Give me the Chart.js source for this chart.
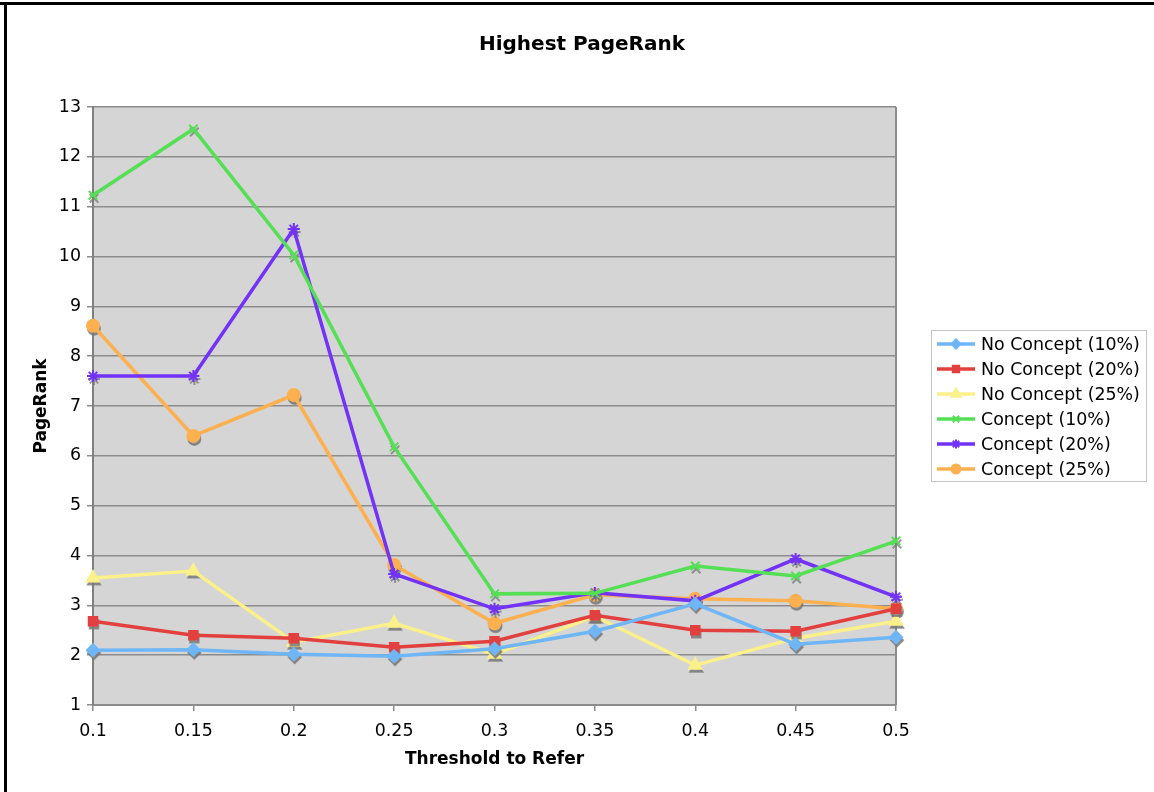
<!DOCTYPE html>
<html>
<head>
<meta charset="utf-8">
<script src="https://cdn.jsdelivr.net/npm/chart.js@4/dist/chart.umd.min.js"></script>
<style>
  html, body { margin: 0; padding: 0; background: #fff; }
  #wrap { position: relative; width: 1154px; height: 792px; }
  canvas { display: block; }
</style>
</head>
<body>
<div id="wrap"><canvas id="c" width="1154" height="792"></canvas></div>
<script>
// Threshold categories on the x axis
const thresholds = ['0.1', '0.15', '0.2', '0.25', '0.3', '0.35', '0.4', '0.45', '0.5'];

// Highest PageRank per series
const noConcept10 = [2.10, 2.11, 2.02, 1.98, 2.13, 2.48, 3.03, 2.22, 2.36];
const noConcept20 = [2.68, 2.40, 2.34, 2.16, 2.28, 2.80, 2.50, 2.48, 2.93];
const noConcept25 = [3.55, 3.69, 2.26, 2.64, 2.02, 2.78, 1.80, 2.34, 2.68];
const concept10   = [11.23, 12.56, 10.03, 6.18, 3.23, 3.24, 3.79, 3.59, 4.29];
const concept20   = [7.60, 7.60, 10.55, 3.63, 2.93, 3.25, 3.09, 3.93, 3.17];
const concept25   = [8.61, 6.40, 7.22, 3.81, 2.64, 3.21, 3.13, 3.09, 2.93];

// y axis range
const yMin = 1, yMax = 13, yStep = 1;

const FONT = '"DejaVu Sans", Verdana, sans-serif';

function series(label, data, color, pointStyle, radius) {
  return {
    label, data,
    borderColor: color,
    backgroundColor: color,
    pointBackgroundColor: color,
    pointBorderColor: color,
    pointStyle,
    pointRadius: radius,
    pointHoverRadius: radius,
    pointBorderWidth: 2,
    borderWidth: 3.5,
    tension: 0,
    fill: false
  };
}

const datasets = [
  series('No Concept (10%)', noConcept10, '#6fb6f7', 'rectRot', 6),
  series('No Concept (20%)', noConcept20, '#e2403f', 'rect', 6),
  series('No Concept (25%)', noConcept25, '#fbf08a', 'triangle', 7),
  series('Concept (10%)',    concept10,   '#55df55', 'crossRot', 6),
  series('Concept (20%)',    concept20,   '#7232f7', 'star', 6),
  series('Concept (25%)',    concept25,   '#fcb04f', 'circle', 6)
];

// Page frame, plot background and right edge of the plot
const backdrop = {
  id: 'backdrop',
  beforeDraw(chart) {
    const { ctx, chartArea: a, width, height } = chart;
    ctx.save();
    ctx.fillStyle = '#ffffff';
    ctx.fillRect(0, 0, width, height);
    ctx.fillStyle = '#000000';
    ctx.fillRect(0, 2, width, 3);
    ctx.fillRect(4, 2, 3, height - 2);
    ctx.fillStyle = '#d5d5d5';
    ctx.fillRect(a.left, a.top, a.right - a.left, a.bottom - a.top);
    ctx.strokeStyle = '#8c8c8c';
    ctx.lineWidth = 2;
    ctx.beginPath();
    ctx.moveTo(a.right, a.top);
    ctx.lineTo(a.right, a.bottom);
    ctx.stroke();
    ctx.restore();
  }
};

// Grey drop shadows under the point markers
const markerShadows = {
  id: 'markerShadows',
  beforeDatasetDraw(chart, args) {
    const meta = args.meta;
    const ds = chart.data.datasets[args.index];
    const ctx = chart.ctx;
    ctx.save();
    for (const p of meta.data) {
      const opts = {
        pointStyle: ds.pointStyle,
        radius: ds.pointRadius,
        rotation: 0,
        borderWidth: ds.pointBorderWidth
      };
      ctx.fillStyle = 'rgba(120,120,120,0.75)';
      ctx.strokeStyle = 'rgba(120,120,120,0.75)';
      ctx.lineWidth = ds.pointBorderWidth;
      Chart.helpers.drawPoint(ctx, opts, p.x + 1, p.y + 3);
    }
    ctx.restore();
  }
};

// Chart title and boxed legend on the right
const labelsPlugin = {
  id: 'labelsPlugin',
  afterDraw(chart) {
    const ctx = chart.ctx;
    ctx.save();
    ctx.fillStyle = '#000';
    ctx.font = 'bold 20px ' + FONT;
    ctx.textAlign = 'center';
    ctx.textBaseline = 'middle';
    ctx.fillText('Highest PageRank', 582, 45);

    const bx = 931.5, by = 330.5, bw = 215, bh = 151;
    ctx.strokeStyle = '#c4c4c4';
    ctx.lineWidth = 1;
    ctx.strokeRect(bx, by, bw, bh);

    ctx.font = '17.4px ' + FONT;
    ctx.textAlign = 'left';
    chart.data.datasets.forEach((ds, i) => {
      const cy = 344 + i * 25;
      ctx.strokeStyle = ds.borderColor;
      ctx.lineWidth = 3.5;
      ctx.beginPath();
      ctx.moveTo(937, cy);
      ctx.lineTo(975, cy);
      ctx.stroke();
      ctx.fillStyle = ds.pointBackgroundColor;
      ctx.strokeStyle = ds.pointBorderColor;
      ctx.lineWidth = 2;
      Chart.helpers.drawPoint(ctx, {
        pointStyle: ds.pointStyle, radius: ds.pointRadius - 1.5, rotation: 0, borderWidth: 2
      }, 956, cy);
      ctx.fillStyle = '#000';
      ctx.fillText(ds.label, 981, cy + 1);
    });
    ctx.restore();
  }
};

new Chart(document.getElementById('c'), {
  type: 'line',
  data: { labels: thresholds, datasets },
  plugins: [backdrop, markerShadows, labelsPlugin],
  options: {
    responsive: false,
    animation: false,
    events: [],
    layout: { padding: { left: 0, top: 107, right: 258, bottom: 0 } },
    plugins: {
      legend: { display: false },
      title: { display: false },
      tooltip: { enabled: false }
    },
    scales: {
      x: {
        type: 'category',
        offset: false,
        afterFit(scale) { scale.height = 87; },
        grid: {
          drawOnChartArea: false,
          drawTicks: true,
          tickLength: 6,
          color: '#8c8c8c',
          lineWidth: 1.5
        },
        border: { color: '#8c8c8c', width: 2 },
        ticks: {
          color: '#000',
          font: { family: FONT, size: 17.4 },
          padding: 10,
          maxRotation: 0,
          autoSkip: false
        },
        title: {
          display: true,
          text: 'Threshold to Refer',
          color: '#000',
          font: { family: FONT, size: 17, weight: 'bold' },
          padding: { top: 0, bottom: 22 }
        }
      },
      y: {
        min: yMin,
        max: yMax,
        afterFit(scale) { scale.width = 93; },
        grid: {
          color: '#8c8c8c',
          lineWidth: 1.5,
          tickLength: 6,
          drawTicks: true
        },
        border: { color: '#7f7f7f', width: 2 },
        ticks: {
          stepSize: yStep,
          color: '#000',
          font: { family: FONT, size: 17.4 },
          padding: 6
        },
        title: {
          display: true,
          text: 'PageRank',
          color: '#000',
          font: { family: FONT, size: 17, weight: 'bold' },
          padding: { top: 31, bottom: 0 }
        }
      }
    }
  }
});
</script>
</body>
</html>
